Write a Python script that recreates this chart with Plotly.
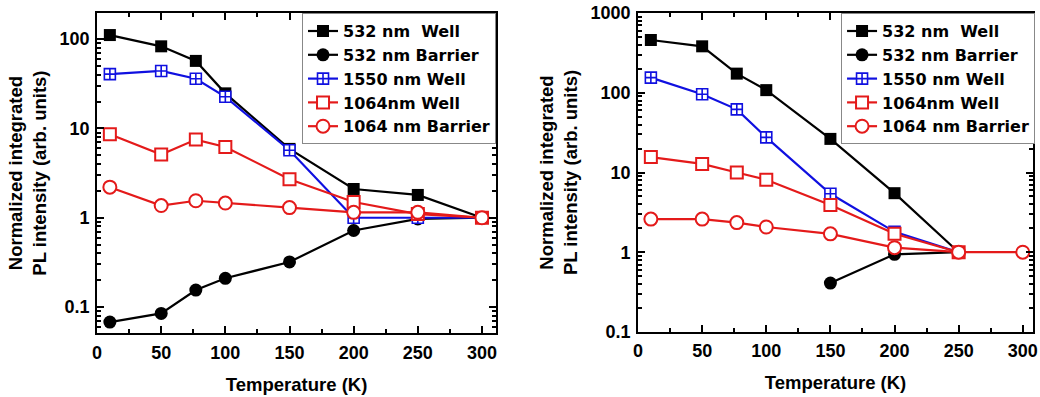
import plotly.graph_objects as go

# Temperatures (K)
temps = [10, 50, 77, 100, 150, 200, 250, 300]

# Left panel: normalized integrated PL intensity
well532_left = [111, 83, 57, 24.7, 5.9, 2.1, 1.8, 1.0]
barrier532_left = [0.068, 0.085, 0.155, 0.21, 0.32, 0.72, 0.97, 1.0]
well1550_left = [40.5, 44, 36, 22.6, 5.7, 1.0, 1.0, 1.0]
well1064_left = [8.6, 5.1, 7.5, 6.2, 2.7, 1.5, 1.1, 1.0]
barrier1064_left = [2.2, 1.37, 1.55, 1.46, 1.3, 1.15, 1.15, 1.0]

# Right panel
temps_right = [10, 50, 77, 100, 150, 200, 250]
well532_right = [460, 383, 174, 108, 26.4, 5.5, 1.0]
temps_barrier532_right = [150, 200, 250]
barrier532_right = [0.41, 0.94, 1.0]
well1550_right = [155, 96, 62, 27.6, 5.4, 1.8, 1.0]
well1064_right = [15.6, 12.8, 10, 8.1, 3.9, 1.7, 1.0]
barrier1064_right = [2.6, 2.6, 2.35, 2.07, 1.7, 1.14, 1.0, 1.0]

labels = ["532 nm  Well", "532 nm Barrier", "1550 nm Well", "1064nm Well", "1064 nm Barrier"]

styles = [
    dict(line=dict(color="black", width=2.2),
         marker=dict(symbol="square", size=12, color="black")),
    dict(line=dict(color="black", width=2.2),
         marker=dict(symbol="circle", size=13, color="black")),
    dict(line=dict(color="#1010e0", width=2.2),
         marker=dict(symbol="square-cross", size=11, color="white",
                     line=dict(color="#1010e0", width=1.6))),
    dict(line=dict(color="#e41a1a", width=2.2),
         marker=dict(symbol="square", size=12, color="white",
                     line=dict(color="#e41a1a", width=2))),
    dict(line=dict(color="#e41a1a", width=2.2),
         marker=dict(symbol="circle", size=13, color="white",
                     line=dict(color="#e41a1a", width=2))),
]

left_series = [
    (temps, well532_left), (temps, barrier532_left), (temps, well1550_left),
    (temps, well1064_left), (temps, barrier1064_left),
]
right_series = [
    (temps_right, well532_right), (temps_barrier532_right, barrier532_right),
    (temps_right, well1550_right), (temps_right, well1064_right),
    (temps, barrier1064_right),
]

fig = go.Figure()
for (x, y), name, st in zip(left_series, labels, styles):
    fig.add_trace(go.Scatter(x=x, y=y, name=name, mode="lines+markers",
                             xaxis="x", yaxis="y", legend="legend", **st))
for (x, y), name, st in zip(right_series, labels, styles):
    fig.add_trace(go.Scatter(x=x, y=y, name=name, mode="lines+markers",
                             xaxis="x2", yaxis="y2", legend="legend2", **st))

FONT = "Liberation Sans, Arial, sans-serif"
tick_font = dict(family=FONT, size=18, color="black", weight="bold")
title_font = dict(family=FONT, size=18.5, color="black", weight="bold")
legend_font = dict(family="DejaVu Sans, sans-serif", size=16, color="black",
                   weight="bold")


def log_minor(lo, hi):
    vals = []
    for e in range(lo, hi):
        for m in range(2, 10):
            vals.append(m * 10 ** e)
    return vals


xaxis_common = dict(
    range=[0, 311], tickvals=[0, 50, 100, 150, 200, 250, 300],
    ticks="inside", ticklen=7, tickwidth=2, tickcolor="black",
    minor=dict(tickvals=[25, 75, 125, 175, 225, 275], ticks="inside",
               ticklen=4, tickwidth=1.5, tickcolor="black"),
    showline=True, linecolor="black", linewidth=2, mirror="ticks",
    showgrid=False, zeroline=False, tickfont=tick_font, automargin=False,
    ticklabelstandoff=2,
    title=dict(text="Temperature (K)", font=title_font, standoff=16),
)

yaxis_common = dict(
    type="log", ticks="inside", ticklen=7, tickwidth=2, tickcolor="black",
    showline=True, linecolor="black", linewidth=2, mirror="ticks",
    showgrid=False, zeroline=False, tickfont=tick_font, automargin=False,
    ticklabelstandoff=2,
    title=dict(text="Normalized integrated<br>PL intensity (arb. units)",
               font=title_font, standoff=8),
)

fig.update_layout(
    width=1040, height=397,
    margin=dict(l=0, r=0, t=0, b=0, autoexpand=False),
    paper_bgcolor="white", plot_bgcolor="white",
    xaxis=dict(domain=[0.0933, 0.477], anchor="y", **xaxis_common),
    yaxis=dict(domain=[0.161, 0.967], anchor="x", range=[-1.291, 2.291],
               tickvals=[0.1, 1, 10, 100], ticktext=["0.1", "1", "10", "100"],
               minor=dict(tickvals=log_minor(-2, 3), ticks="inside", ticklen=4,
                          tickwidth=1.5, tickcolor="black"),
               **yaxis_common),
    xaxis2=dict(domain=[0.6135, 0.9933], anchor="y2",
                **{**xaxis_common, "range": [0, 308]}),
    yaxis2=dict(domain=[0.164, 0.967], anchor="x2", range=[-1, 3],
                tickvals=[0.1, 1, 10, 100, 1000],
                ticktext=["0.1", "1", "10", "100", "1000"],
                minor=dict(tickvals=log_minor(-1, 3), ticks="inside", ticklen=4,
                           tickwidth=1.5, tickcolor="black"),
                **yaxis_common),
    legend=dict(x=0.2904, y=0.967, xanchor="left", yanchor="top",
                bgcolor="white", bordercolor="#888888", borderwidth=1,
                font=legend_font, tracegroupgap=0, itemwidth=30),
    legend2=dict(x=0.8087, y=0.967, xanchor="left", yanchor="top",
                 bgcolor="white", bordercolor="#888888", borderwidth=1,
                 font=legend_font, tracegroupgap=0, itemwidth=30),
)

fig.write_html("out.html")
